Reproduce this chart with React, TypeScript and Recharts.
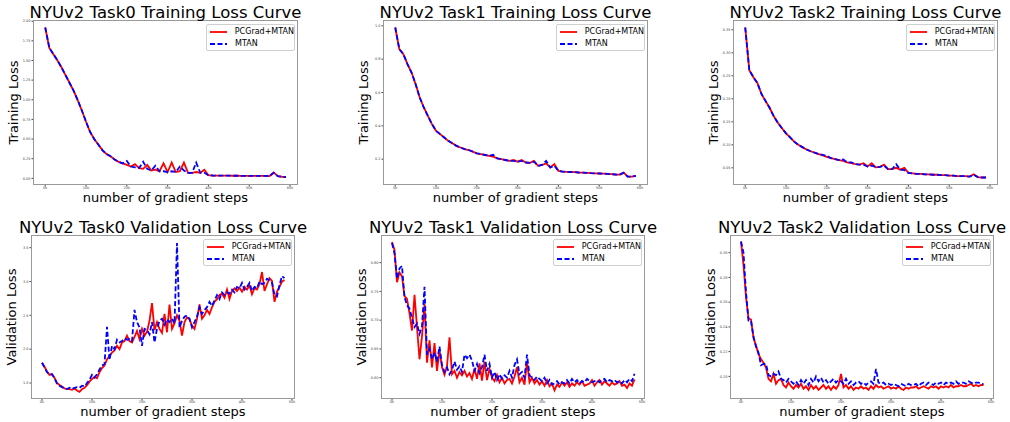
import React from "react";
import { LineChart, Line, XAxis, YAxis } from "recharts";

// steps in thousands
const trainSteps = [
  0, 1, 2, 3, 4, 5, 6, 7, 8, 9, 10, 11, 12, 13, 14, 15, 16, 17, 18, 19,
  20, 21, 22, 23, 24, 25, 26, 27, 28, 29, 30, 31, 32, 33, 34, 35, 36, 37, 38, 39,
  40, 41, 42, 43, 44, 45, 46, 47, 48, 49, 50, 51, 52, 53, 54, 55, 56, 57, 58, 59,
];
const valSteps = [
  0, 0.5, 1, 1.5, 2, 2.5, 3, 3.5, 4, 4.5, 5, 5.5, 6, 6.5, 7, 7.5, 8, 8.5, 9, 9.5,
  10, 10.5, 11, 11.5, 12, 12.5, 13, 13.5, 14, 14.5, 15, 15.5, 16, 16.5, 17, 17.5, 18, 18.5, 19, 19.5,
  20, 20.5, 21, 21.5, 22, 22.5, 23, 23.5, 24, 24.5, 25, 25.5, 26, 26.5, 27, 27.5, 28, 28.5, 29, 29.5,
  30, 30.5, 31, 31.5, 32, 32.5, 33, 33.5, 34, 34.5, 35, 35.5, 36, 36.5, 37, 37.5, 38, 38.5, 39, 39.5,
  40, 40.5, 41, 41.5, 42, 42.5, 43, 43.5, 44, 44.5, 45, 45.5, 46, 46.5, 47, 47.5, 48, 48.5,
];

const task0TrainPcgrad = [
  1.92, 1.66, 1.58, 1.5, 1.41, 1.31, 1.21, 1.11, 0.99, 0.86,
  0.72, 0.59, 0.5, 0.43, 0.36, 0.31, 0.28, 0.24, 0.21, 0.19,
  0.17, 0.15, 0.18, 0.13, 0.12, 0.17, 0.1, 0.11, 0.09, 0.19,
  0.08, 0.2, 0.08, 0.09, 0.2, 0.07, 0.07, 0.08, 0.07, 0.11,
  0.04, 0.036, 0.035, 0.035, 0.034, 0.034, 0.033, 0.033, 0.032, 0.032,
  0.031, 0.031, 0.03, 0.03, 0.03, 0.029, 0.075, 0.028, 0.02, 0.017,
];
const task0TrainMtan = [
  1.92, 1.66, 1.58, 1.5, 1.41, 1.31, 1.21, 1.11, 0.99, 0.86,
  0.72, 0.59, 0.5, 0.43, 0.36, 0.31, 0.28, 0.24, 0.21, 0.19,
  0.22, 0.15, 0.14, 0.13, 0.21, 0.12, 0.1, 0.16, 0.09, 0.09,
  0.08, 0.09, 0.08, 0.15, 0.1, 0.07, 0.07, 0.2, 0.07, 0.07,
  0.04, 0.036, 0.035, 0.035, 0.034, 0.034, 0.033, 0.033, 0.032, 0.032,
  0.031, 0.031, 0.03, 0.03, 0.03, 0.029, 0.07, 0.028, 0.02, 0.017,
];

const task1TrainPcgrad = [
  0.99, 0.86, 0.83, 0.77, 0.72, 0.65, 0.57, 0.51, 0.46, 0.41,
  0.37, 0.35, 0.33, 0.31, 0.295, 0.28, 0.27, 0.26, 0.255, 0.245,
  0.235, 0.23, 0.225, 0.22, 0.215, 0.205, 0.2, 0.195, 0.19, 0.195,
  0.185, 0.195, 0.18, 0.178, 0.19, 0.16, 0.165, 0.175, 0.15, 0.17,
  0.13, 0.125, 0.124, 0.123, 0.122, 0.12, 0.119, 0.118, 0.116, 0.115,
  0.114, 0.113, 0.112, 0.11, 0.108, 0.107, 0.12, 0.095, 0.095, 0.1,
];
const task1TrainMtan = [
  0.99, 0.86, 0.83, 0.77, 0.72, 0.65, 0.57, 0.51, 0.46, 0.41,
  0.37, 0.35, 0.33, 0.31, 0.295, 0.28, 0.27, 0.26, 0.255, 0.245,
  0.235, 0.23, 0.225, 0.22, 0.226, 0.205, 0.2, 0.195, 0.19, 0.19,
  0.185, 0.19, 0.18, 0.178, 0.185, 0.16, 0.165, 0.19, 0.15, 0.16,
  0.13, 0.125, 0.124, 0.123, 0.122, 0.12, 0.119, 0.118, 0.116, 0.115,
  0.114, 0.113, 0.112, 0.11, 0.108, 0.107, 0.118, 0.095, 0.095, 0.1,
];

const task2TrainPcgrad = [
  0.355, 0.262, 0.247, 0.234, 0.21, 0.195, 0.18, 0.162, 0.148, 0.136,
  0.125, 0.116, 0.107, 0.1, 0.095, 0.09, 0.086, 0.083, 0.08, 0.077,
  0.074, 0.071, 0.069, 0.067, 0.065, 0.062, 0.06, 0.058, 0.057, 0.06,
  0.053, 0.06, 0.051, 0.052, 0.057, 0.047, 0.047, 0.05, 0.046, 0.05,
  0.039, 0.038, 0.037, 0.037, 0.036, 0.036, 0.035, 0.035, 0.034, 0.034,
  0.033, 0.033, 0.032, 0.032, 0.032, 0.031, 0.036, 0.03, 0.029, 0.029,
];
const task2TrainMtan = [
  0.355, 0.262, 0.247, 0.234, 0.21, 0.195, 0.18, 0.162, 0.148, 0.136,
  0.125, 0.116, 0.107, 0.1, 0.095, 0.09, 0.086, 0.083, 0.08, 0.078,
  0.076, 0.071, 0.069, 0.067, 0.068, 0.062, 0.062, 0.058, 0.057, 0.057,
  0.053, 0.055, 0.051, 0.052, 0.055, 0.047, 0.047, 0.058, 0.046, 0.045,
  0.039, 0.038, 0.037, 0.037, 0.036, 0.036, 0.035, 0.035, 0.034, 0.034,
  0.033, 0.033, 0.032, 0.032, 0.032, 0.031, 0.035, 0.03, 0.029, 0.029,
];

const task0ValPcgrad = [
  1.8, 1.74, 1.67, 1.62, 1.63, 1.58, 1.5, 1.47, 1.45, 1.42,
  1.41, 1.41, 1.4, 1.42, 1.39, 1.37, 1.41, 1.43, 1.47, 1.52,
  1.56, 1.59, 1.57, 1.66, 1.72, 1.76, 1.85, 1.9, 1.95, 1.98,
  2.05, 2.0, 2.1, 2.12, 2.2, 2.12, 2.1, 2.18, 2.27, 2.15,
  2.3, 2.2, 2.26, 2.42, 2.68, 2.28, 2.4, 2.3, 2.24, 2.52,
  2.25, 2.66, 2.3, 2.38, 2.5, 2.42, 2.2, 2.4, 2.47, 2.44,
  2.35, 2.3, 2.45, 2.66, 2.45, 2.5, 2.58, 2.52, 2.62, 2.7,
  2.74, 2.8, 2.82, 2.76, 2.88, 2.74, 2.86, 2.9, 2.86, 2.91,
  2.85, 2.92, 2.88, 2.94, 2.81, 2.9, 2.88, 2.96, 3.14, 2.86,
  2.96, 3.05, 3.01, 2.7, 2.85, 2.92, 3.0, 3.02,
];
const task0ValMtan = [
  1.8, 1.73, 1.66, 1.63, 1.63, 1.57, 1.49, 1.46, 1.44, 1.42,
  1.41, 1.43, 1.41, 1.43, 1.44, 1.43, 1.46, 1.45, 1.5, 1.55,
  1.62, 1.58, 1.63, 1.7, 1.76, 1.78, 2.33, 1.84, 2.05, 2.0,
  2.14, 2.1, 2.12, 2.16, 2.14, 2.15, 2.12, 2.58, 2.4, 2.32,
  2.05, 2.3, 2.28, 2.22, 2.4, 2.1, 2.3, 2.42, 2.45, 2.36,
  2.44, 2.4, 2.45, 2.38, 3.57, 2.32, 2.42, 2.48, 2.5, 2.45,
  2.32, 2.4, 2.48, 2.62, 2.52, 2.58, 2.62, 2.7, 2.64, 2.72,
  2.8, 2.74, 2.84, 2.8, 2.84, 2.82, 2.88, 2.84, 2.92, 2.9,
  2.98, 2.88, 2.92, 2.98, 2.86, 2.92, 2.9, 3.0, 2.96, 2.98,
  3.04, 3.02, 2.98, 2.8, 2.78, 2.95, 3.08, 3.05,
];

const task1ValPcgrad = [
  0.836, 0.822, 0.766, 0.783, 0.776, 0.742, 0.737, 0.712, 0.682, 0.744,
  0.688, 0.632, 0.672, 0.728, 0.626, 0.665, 0.618, 0.66, 0.612, 0.648,
  0.618, 0.605, 0.62, 0.67, 0.606, 0.612, 0.6, 0.61, 0.604, 0.612,
  0.602, 0.608, 0.598, 0.616, 0.598, 0.625, 0.595, 0.628, 0.596, 0.615,
  0.6, 0.594, 0.605, 0.592, 0.6, 0.59, 0.596, 0.598, 0.59, 0.602,
  0.618, 0.592, 0.6, 0.588, 0.628, 0.592, 0.6, 0.59, 0.596, 0.588,
  0.594, 0.586, 0.596, 0.585, 0.59, 0.578, 0.588, 0.584, 0.592, 0.586,
  0.592, 0.584, 0.59, 0.586, 0.592, 0.588, 0.594, 0.586, 0.588, 0.59,
  0.596, 0.586, 0.592, 0.596, 0.588, 0.594, 0.59, 0.586, 0.592, 0.588,
  0.59, 0.594, 0.586, 0.588, 0.582, 0.59, 0.586, 0.597,
];
const task1ValMtan = [
  0.834, 0.816, 0.772, 0.79, 0.794, 0.74, 0.726, 0.72, 0.704, 0.688,
  0.694, 0.676, 0.69, 0.758, 0.64, 0.65, 0.632, 0.644, 0.628, 0.654,
  0.622, 0.61, 0.618, 0.606, 0.614, 0.628, 0.614, 0.62, 0.61, 0.64,
  0.634, 0.64, 0.63, 0.612, 0.624, 0.608, 0.618, 0.64, 0.612, 0.624,
  0.6, 0.61, 0.596, 0.606, 0.598, 0.604, 0.6, 0.612, 0.6, 0.622,
  0.632, 0.606, 0.61, 0.6, 0.64, 0.604, 0.6, 0.596, 0.602, 0.598,
  0.594, 0.6, 0.59, 0.596, 0.588, 0.59, 0.594, 0.588, 0.592, 0.59,
  0.596, 0.59, 0.598, 0.592, 0.596, 0.59, 0.594, 0.592, 0.598, 0.594,
  0.592, 0.594, 0.596, 0.592, 0.596, 0.598, 0.592, 0.596, 0.594, 0.596,
  0.592, 0.594, 0.59, 0.596, 0.592, 0.598, 0.594, 0.607,
];

const task2ValPcgrad = [
  0.309, 0.29, 0.264, 0.247, 0.246, 0.231, 0.225, 0.218, 0.214, 0.211,
  0.207, 0.198, 0.196, 0.202, 0.194, 0.197, 0.198, 0.193, 0.191, 0.195,
  0.192, 0.19, 0.193, 0.191, 0.194, 0.19, 0.192, 0.189, 0.193, 0.19,
  0.192, 0.189, 0.191, 0.193, 0.19, 0.192, 0.189, 0.192, 0.19, 0.193,
  0.202, 0.191, 0.193, 0.19, 0.192, 0.189, 0.191, 0.19, 0.192, 0.19,
  0.191, 0.189, 0.192, 0.19, 0.193, 0.191, 0.192, 0.19, 0.191, 0.192,
  0.19, 0.191, 0.19, 0.192, 0.19, 0.189, 0.191, 0.19, 0.191, 0.191,
  0.192, 0.19, 0.191, 0.192, 0.191, 0.19, 0.192, 0.191, 0.192, 0.19,
  0.192, 0.191, 0.192, 0.191, 0.193, 0.191, 0.192, 0.192, 0.193, 0.192,
  0.192, 0.193, 0.194, 0.192, 0.193, 0.192, 0.193, 0.193,
];
const task2ValMtan = [
  0.309, 0.3, 0.268, 0.245, 0.245, 0.232, 0.224, 0.219, 0.209, 0.21,
  0.21, 0.201, 0.2, 0.202, 0.201, 0.204, 0.198, 0.197, 0.195, 0.198,
  0.196, 0.194, 0.196, 0.193, 0.197, 0.194, 0.197, 0.193, 0.198, 0.195,
  0.2, 0.196, 0.199, 0.195, 0.197, 0.194, 0.196, 0.198, 0.195, 0.197,
  0.196, 0.194, 0.198, 0.194, 0.196, 0.193, 0.195, 0.196, 0.194, 0.195,
  0.193, 0.195, 0.196, 0.194, 0.206, 0.195, 0.194, 0.195, 0.193, 0.194,
  0.193, 0.194, 0.193, 0.192, 0.194, 0.193, 0.192, 0.194, 0.193, 0.193,
  0.194, 0.192, 0.194, 0.195, 0.193, 0.195, 0.194, 0.193, 0.195, 0.194,
  0.195, 0.193, 0.195, 0.194, 0.195, 0.194, 0.196, 0.194, 0.195, 0.195,
  0.194, 0.196, 0.195, 0.194, 0.195, 0.195, 0.194, 0.194,
];

const trainXTicks = [0, 10, 20, 30, 40, 50, 60];
const valXTicks = [0, 10, 20, 30, 40, 50];
const task0TrainYTicks = [0, 0.25, 0.5, 0.75, 1, 1.25, 1.5, 1.75, 2];
const task1TrainYTicks = [0.2, 0.4, 0.6, 0.8, 1.0];
const task2TrainYTicks = [0.05, 0.1, 0.15, 0.2, 0.25, 0.3, 0.35];
const task0ValYTicks = [1.5, 2.0, 2.5, 3.0, 3.5];
const task1ValYTicks = [0.6, 0.65, 0.7, 0.75, 0.8];
const task2ValYTicks = [0.2, 0.22, 0.24, 0.26, 0.28, 0.3];

const FONT = "DejaVu Sans";
const RED = "#ff0000";
const BLUE = "#0000ff";
const YW = 24;
const PAD = 4;
const XH = 8;

type PanelProps = {
  left: number;
  top: number;
  w: number;
  h: number;
  title: string;
  yLabel: string;
  steps: number[];
  pcgrad: number[];
  mtan: number[];
  xDomain: [number, number];
  xTicks: number[];
  yDomain: [number, number];
  yTicks: number[];
  yDigits: number;
};

const tickStyle = { fontSize: 3.5, fill: "#444", fontFamily: FONT };

function LegendBox() {
  const row = (color: string, dash: string | undefined, label: string) => (
    <div style={{ display: "flex", alignItems: "center", height: 11.4 }}>
      <svg width={22} height={6} style={{ marginLeft: 3 }}>
        <line x1={0} y1={3} x2={17} y2={3} stroke={color} strokeWidth={1.8} strokeDasharray={dash} />
      </svg>
      <span style={{ fontSize: 8, fontFamily: FONT, marginLeft: 3, lineHeight: "8px" }}>{label}</span>
    </div>
  );
  return (
    <div
      style={{
        position: "absolute",
        boxSizing: "border-box",
        width: 89,
        height: 27,
        border: "1px solid #d0d0d0",
        borderRadius: 2,
        background: "rgba(255,255,255,0.8)",
        paddingTop: 1.5,
      }}
    >
      {row(RED, undefined, "PCGrad+MTAN")}
      {row(BLUE, "5 2.5", "MTAN")}
    </div>
  );
}

function Panel(p: PanelProps) {
  const rows = p.steps.map((s, i) => ({ step: s, pcgrad: p.pcgrad[i], mtan: p.mtan[i] }));
  const cx = p.left + p.w / 2;
  return (
    <>
      <div style={{ position: "absolute", left: p.left - YW, top: p.top - PAD }}>
        <LineChart
          width={YW + p.w + PAD}
          height={PAD + p.h + XH}
          data={rows}
          margin={{ top: PAD, right: PAD, bottom: 0, left: 0 }}
        >
          <XAxis
            dataKey="step"
            type="number"
            domain={p.xDomain}
            ticks={p.xTicks}
            interval={0}
            allowDataOverflow
            tickFormatter={(v: number) => `${v}k`}
            tick={tickStyle}
            tickSize={1.5}
            tickMargin={0}
            axisLine={false}
            tickLine={{ stroke: "#444" }}
            height={XH}
          />
          <YAxis
            type="number"
            domain={p.yDomain}
            ticks={p.yTicks}
            interval={0}
            allowDataOverflow
            tickFormatter={(v: number) => v.toFixed(p.yDigits)}
            tick={tickStyle}
            tickSize={1.5}
            tickMargin={1}
            axisLine={false}
            tickLine={{ stroke: "#444" }}
            width={YW}
          />
          <Line type="linear" dataKey="pcgrad" stroke={RED} strokeWidth={1.8} dot={false} isAnimationActive={false} />
          <Line
            type="linear"
            dataKey="mtan"
            stroke={BLUE}
            strokeWidth={1.8}
            strokeDasharray="5 2.5"
            dot={false}
            isAnimationActive={false}
          />
        </LineChart>
        <div
          style={{
            position: "absolute",
            left: YW,
            top: PAD,
            width: p.w,
            height: p.h,
            boxSizing: "border-box",
            border: "1px solid #999",
            pointerEvents: "none",
          }}
        />
        <div style={{ position: "absolute", left: YW + p.w - 3 - 89, top: PAD + 4 }}>
          <LegendBox />
        </div>
      </div>
      <svg
        width={1010}
        height={422}
        style={{ position: "absolute", left: 0, top: 0, pointerEvents: "none" }}
        fontFamily={FONT}
      >
        <text x={cx} y={p.top - 2.5} fontSize={16.5} textAnchor="middle">
          {p.title}
        </text>
        <text x={cx} y={p.top + p.h + 16.5} fontSize={13} textAnchor="middle">
          number of gradient steps
        </text>
        <text
          transform={`translate(${p.left - 20},${p.top + p.h / 2}) rotate(-90)`}
          fontSize={13}
          textAnchor="middle"
          dominantBaseline="central"
        >
          {p.yLabel}
        </text>
      </svg>
    </>
  );
}

export default function App() {
  const trainX: [number, number] = [-3.0, 61.96];
  const valX: [number, number] = [-2.2, 50.6];
  return (
    <div style={{ position: "absolute", left: 0, top: 0, width: 1010, height: 422, background: "#fff" }}>
      <Panel left={33} top={20} w={265} h={165} title="NYUv2 Task0 Training Loss Curve" yLabel="Training Loss"
        steps={trainSteps} pcgrad={task0TrainPcgrad} mtan={task0TrainMtan}
        xDomain={trainX} xTicks={trainXTicks} yDomain={[-0.085, 2.015]} yTicks={task0TrainYTicks} yDigits={2} />
      <Panel left={383} top={20} w={265} h={165} title="NYUv2 Task1 Training Loss Curve" yLabel="Training Loss"
        steps={trainSteps} pcgrad={task1TrainPcgrad} mtan={task1TrainMtan}
        xDomain={trainX} xTicks={trainXTicks} yDomain={[0.045, 1.035]} yTicks={task1TrainYTicks} yDigits={1} />
      <Panel left={733} top={20} w={265} h={165} title="NYUv2 Task2 Training Loss Curve" yLabel="Training Loss"
        steps={trainSteps} pcgrad={task2TrainPcgrad} mtan={task2TrainMtan}
        xDomain={trainX} xTicks={trainXTicks} yDomain={[0.0127, 0.3713]} yTicks={task2TrainYTicks} yDigits={2} />
      <Panel left={31} top={235} w={264} h={164} title="NYUv2 Task0 Validation Loss Curve" yLabel="Validation Loss"
        steps={valSteps} pcgrad={task0ValPcgrad} mtan={task0ValMtan}
        xDomain={valX} xTicks={valXTicks} yDomain={[1.264, 3.687]} yTicks={task0ValYTicks} yDigits={1} />
      <Panel left={381} top={235} w={264} h={164} title="NYUv2 Task1 Validation Loss Curve" yLabel="Validation Loss"
        steps={valSteps} pcgrad={task1ValPcgrad} mtan={task1ValMtan}
        xDomain={valX} xTicks={valXTicks} yDomain={[0.563, 0.848]} yTicks={task1ValYTicks} yDigits={2} />
      <Panel left={730} top={235} w={264} h={164} title="NYUv2 Task2 Validation Loss Curve" yLabel="Validation Loss"
        steps={valSteps} pcgrad={task2ValPcgrad} mtan={task2ValMtan}
        xDomain={valX} xTicks={valXTicks} yDomain={[0.1817, 0.3143]} yTicks={task2ValYTicks} yDigits={2} />
    </div>
  );
}
